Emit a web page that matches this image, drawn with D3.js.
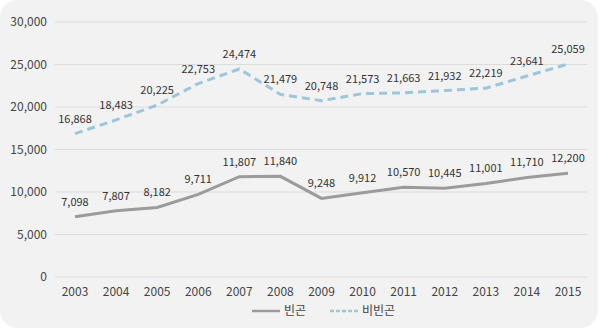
<!DOCTYPE html>
<html>
<head>
<meta charset="utf-8">
<script src="https://cdn.jsdelivr.net/npm/d3@7"></script>
<style>
  body { margin: 0; background: #fff; }
  svg text { font-family: "Noto Sans CJK KR", "Noto Sans", sans-serif; }
</style>
</head>
<body>
<div id="chart"></div>
<script>
// data
const years = ['2003', '2004', '2005', '2006', '2007', '2008', '2009', '2010', '2011', '2012', '2013', '2014', '2015'];
const poor = [7098, 7807, 8182, 9711, 11807, 11840, 9248, 9912, 10570, 10445, 11001, 11710, 12200];
const nonPoor = [16868, 18483, 20225, 22753, 24474, 21479, 20748, 21573, 21663, 21932, 22219, 23641, 25059];
const yTicks = [0, 5000, 10000, 15000, 20000, 25000, 30000];
const seriesNames = ['빈곤', '비빈곤'];

const W = 600, H = 330;
const svg = d3.select('#chart').append('svg')
  .attr('width', W).attr('height', H);

// panel background
svg.append('rect')
  .attr('x', 0).attr('y', 0)
  .attr('width', 598).attr('height', 328)
  .attr('rx', 18)
  .attr('fill', '#f2f2f2');

const x = d3.scalePoint().domain(years).range([75, 568]);
const y = d3.scaleLinear().domain([0, 30000]).range([277, 22]);
const fmt = d3.format(',');

// gridlines + y labels
const grid = svg.append('g');
grid.selectAll('line')
  .data(yTicks)
  .join('line')
  .attr('x1', 55).attr('x2', 587)
  .attr('y1', (d) => y(d)).attr('y2', (d) => y(d))
  .attr('stroke', '#dcdcdc')
  .attr('stroke-width', 1);

grid.selectAll('text')
  .data(yTicks)
  .join('text')
  .attr('x', 47)
  .attr('y', (d) => y(d) + 4)
  .attr('text-anchor', 'end')
  .attr('font-size', 12)
  .attr('fill', '#444')
  .text((d) => fmt(d));

// x labels
svg.append('g').selectAll('text')
  .data(years)
  .join('text')
  .attr('x', (d) => x(d))
  .attr('y', 296)
  .attr('text-anchor', 'middle')
  .attr('font-size', 12)
  .attr('fill', '#444')
  .text((d) => d);

const line = d3.line()
  .x((d, i) => x(years[i]))
  .y((d) => y(d));

const styles = [
  { values: poor, color: '#9b9b9b', dash: null },
  { values: nonPoor, color: '#9cc6d9', dash: '8,5' }
];

styles.forEach((s) => {
  svg.append('path')
    .datum(s.values)
    .attr('d', line)
    .attr('fill', 'none')
    .attr('stroke', s.color)
    .attr('stroke-width', 3)
    .attr('stroke-dasharray', s.dash);

  svg.append('g').selectAll('text')
    .data(s.values)
    .join('text')
    .attr('x', (d, i) => x(years[i]))
    .attr('y', (d) => y(d) - 11)
    .attr('text-anchor', 'middle')
    .attr('font-size', 11)
    .attr('fill', '#333')
    .text((d) => fmt(d));
});

// legend
const legend = svg.append('g');
const legendItems = [
  { name: seriesNames[0], x0: 252, color: '#9b9b9b', dash: null },
  { name: seriesNames[1], x0: 330, color: '#9cc6d9', dash: '4,2' }
];
legendItems.forEach((l) => {
  legend.append('line')
    .attr('x1', l.x0).attr('x2', l.x0 + 28)
    .attr('y1', 311).attr('y2', 311)
    .attr('stroke', l.color)
    .attr('stroke-width', 2.5)
    .attr('stroke-dasharray', l.dash);
  legend.append('text')
    .attr('x', l.x0 + 32)
    .attr('y', 315)
    .attr('font-size', 12)
    .attr('fill', '#444')
    .text(l.name);
});
</script>
</body>
</html>
